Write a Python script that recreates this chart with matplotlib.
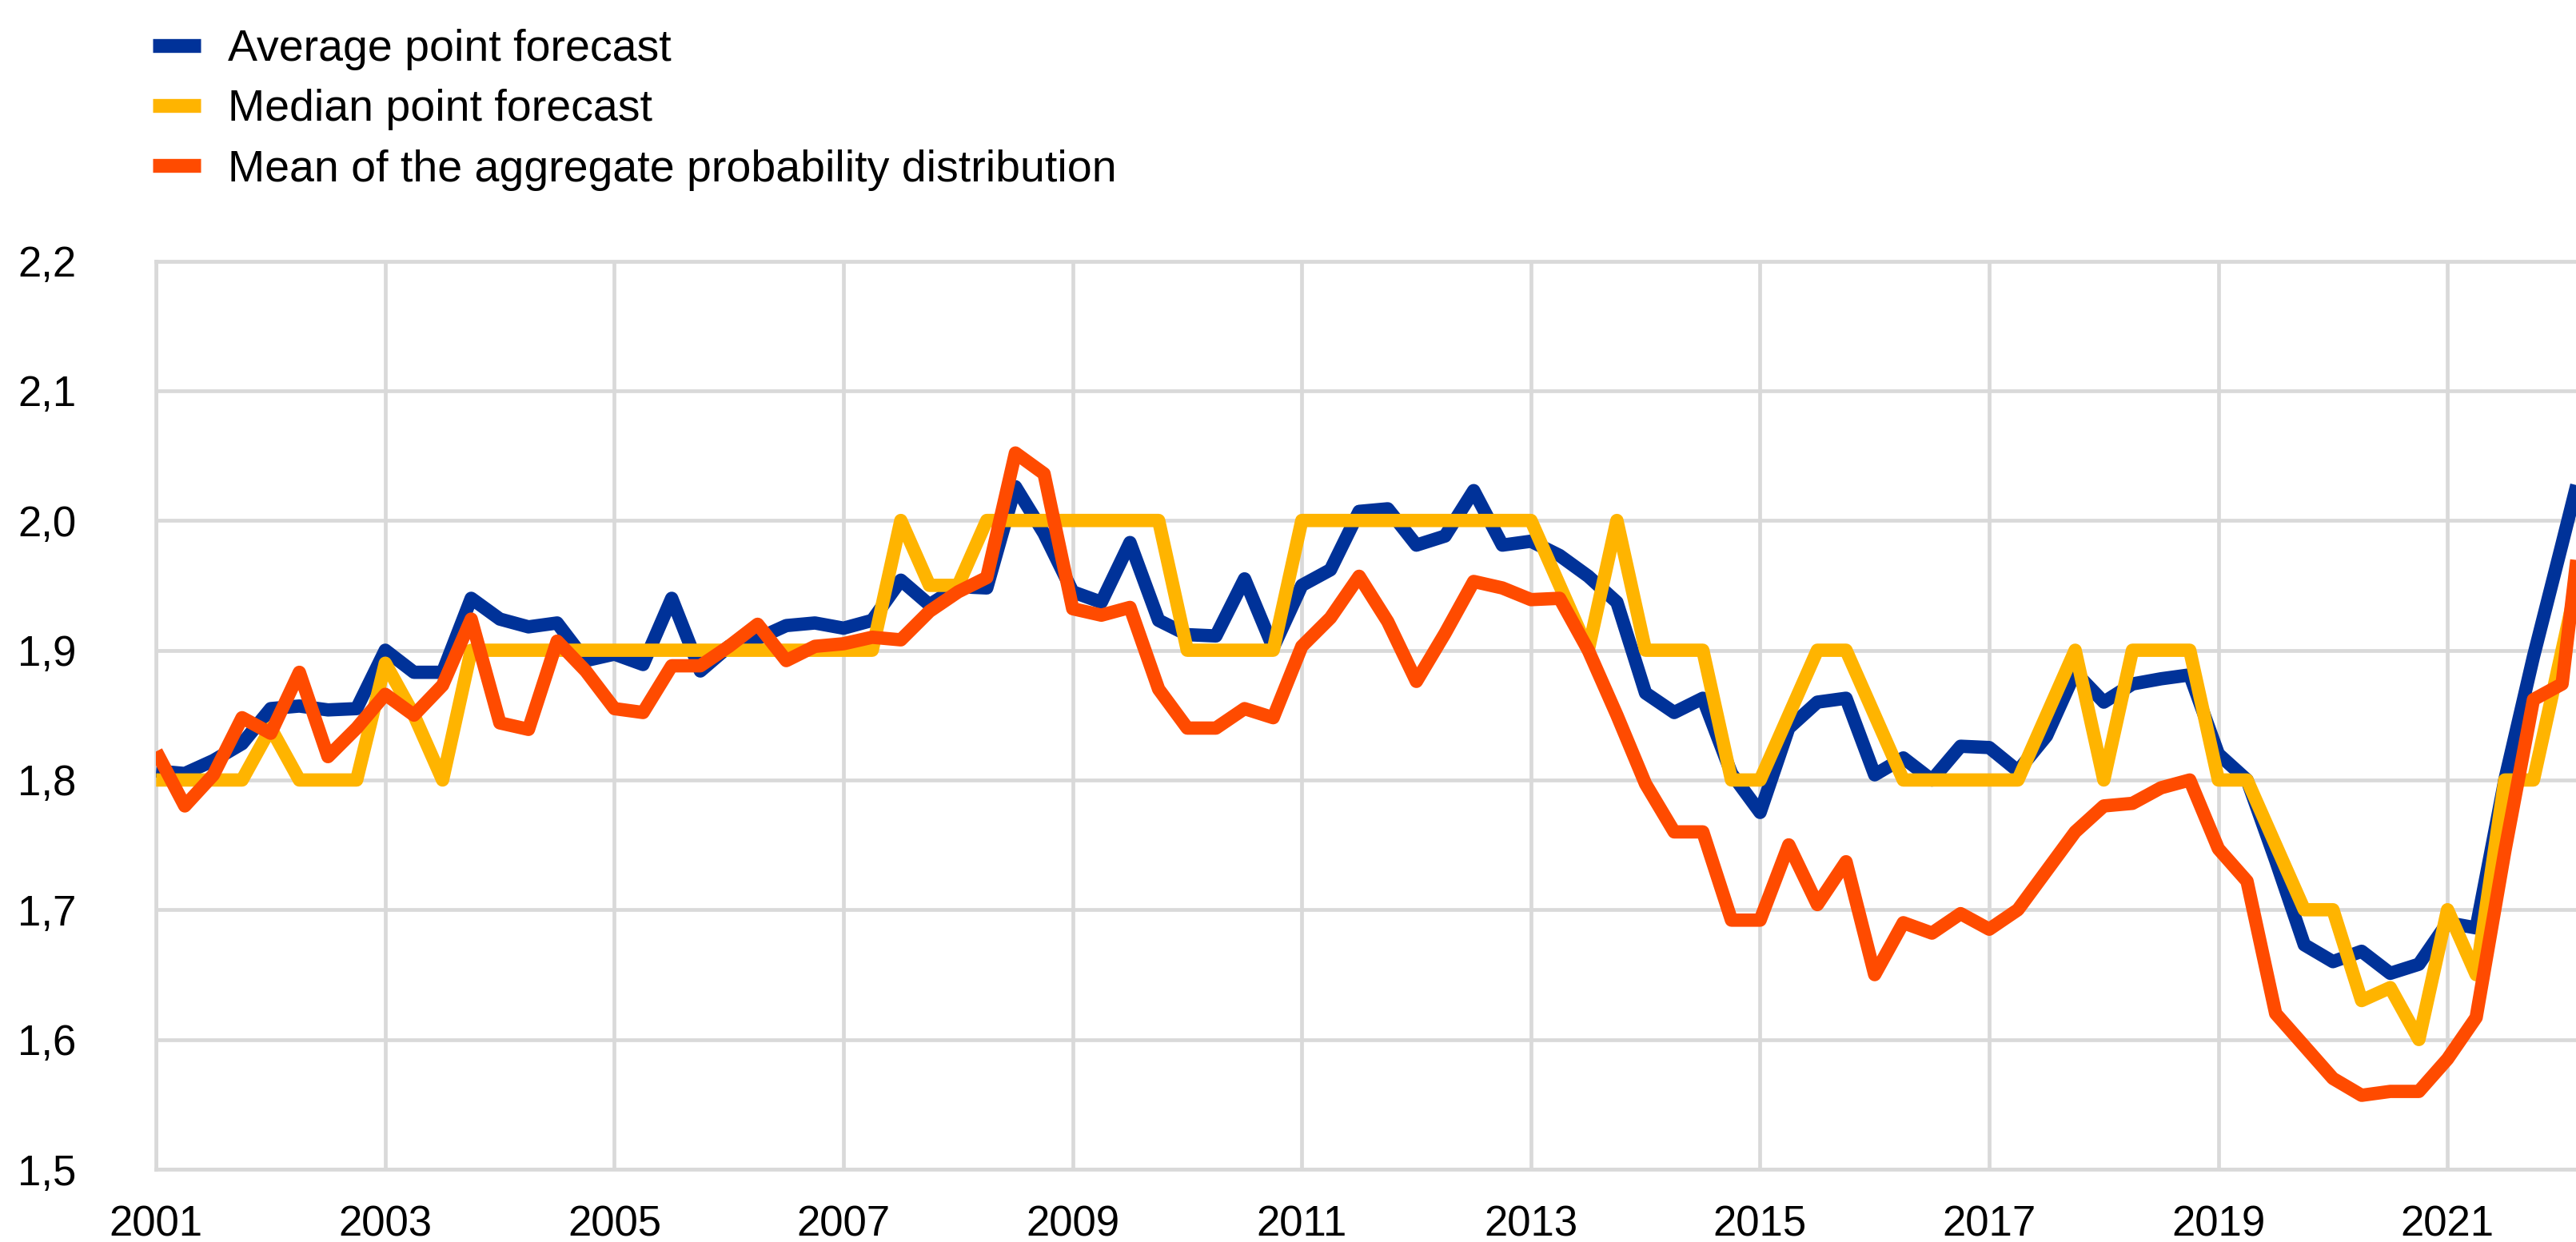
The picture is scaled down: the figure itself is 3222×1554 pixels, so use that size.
import matplotlib
matplotlib.use("Agg")
import matplotlib.pyplot as plt
from matplotlib.lines import Line2D
from matplotlib.ticker import FuncFormatter

plt.rcParams['font.family'] = ['Liberation Sans', 'DejaVu Sans']

# ---------------- data (quarterly, starting 2001 Q1) ----------------
start_year = 2001

average_point = [
    1.807, 1.805, 1.815, 1.828,   # 2001
    1.855, 1.857, 1.854, 1.855,   # 2002
    1.900, 1.883, 1.883, 1.940,   # 2003
    1.924, 1.918, 1.921, 1.892,   # 2004
    1.897, 1.889, 1.940, 1.884,   # 2005
    1.903, 1.909, 1.919, 1.921,   # 2006
    1.917, 1.923, 1.954, 1.935,   # 2007
    1.949, 1.948, 2.026, 1.990,   # 2008
    1.945, 1.937, 1.983, 1.923,   # 2009
    1.912, 1.911, 1.955, 1.902,   # 2010
    1.950, 1.962, 2.007, 2.009,   # 2011
    1.981, 1.988, 2.023, 1.981,   # 2012
    1.984, 1.973, 1.957, 1.937,   # 2013
    1.867, 1.852, 1.863, 1.805,   # 2014
    1.775, 1.840, 1.860, 1.863,   # 2015
    1.804, 1.817, 1.800, 1.826,   # 2016
    1.825, 1.807, 1.834, 1.883,   # 2017
    1.860, 1.874, 1.878, 1.881,   # 2018
    1.820, 1.800, 1.738, 1.673,   # 2019
    1.660, 1.668, 1.651, 1.658,   # 2020
    1.690, 1.686, 1.800, 1.895,   # 2021
    1.982, 2.070,                 # 2022
]

median_point = [
    1.80, 1.80, 1.80, 1.80,   # 2001
    1.84, 1.80, 1.80, 1.80,   # 2002
    1.89, 1.85, 1.80, 1.90,   # 2003
    1.90, 1.90, 1.90, 1.90,   # 2004
    1.90, 1.90, 1.90, 1.90,   # 2005
    1.90, 1.90, 1.90, 1.90,   # 2006
    1.90, 1.90, 2.00, 1.95,   # 2007
    1.95, 2.00, 2.00, 2.00,   # 2008
    2.00, 2.00, 2.00, 2.00,   # 2009
    1.90, 1.90, 1.90, 1.90,   # 2010
    2.00, 2.00, 2.00, 2.00,   # 2011
    2.00, 2.00, 2.00, 2.00,   # 2012
    2.00, 1.95, 1.90, 2.00,   # 2013
    1.90, 1.90, 1.90, 1.80,   # 2014
    1.80, 1.85, 1.90, 1.90,   # 2015
    1.85, 1.80, 1.80, 1.80,   # 2016
    1.80, 1.80, 1.85, 1.90,   # 2017
    1.80, 1.90, 1.90, 1.90,   # 2018
    1.80, 1.80, 1.75, 1.70,   # 2019
    1.70, 1.63, 1.64, 1.60,   # 2020
    1.70, 1.65, 1.80, 1.80,   # 2021
    1.90, 2.00,               # 2022
]

mean_distribution = [
    1.822, 1.780, 1.804, 1.848,   # 2001
    1.836, 1.883, 1.818, 1.840,   # 2002
    1.866, 1.850, 1.873, 1.924,   # 2003
    1.844, 1.839, 1.907, 1.884,   # 2004
    1.855, 1.852, 1.888, 1.888,   # 2005
    1.903, 1.920, 1.892, 1.903,   # 2006
    1.905, 1.910, 1.908, 1.930,   # 2007
    1.945, 1.956, 2.052, 2.036,   # 2008
    1.932, 1.927, 1.933, 1.870,   # 2009
    1.840, 1.840, 1.855, 1.848,   # 2010
    1.903, 1.925, 1.957, 1.922,   # 2011
    1.876, 1.913, 1.953, 1.948,   # 2012
    1.939, 1.940, 1.900, 1.850,   # 2013
    1.797, 1.760, 1.760, 1.692,   # 2014
    1.692, 1.750, 1.704, 1.737,   # 2015
    1.650, 1.690, 1.682, 1.697,   # 2016
    1.685, 1.700, 1.730, 1.760,   # 2017
    1.780, 1.782, 1.794, 1.800,   # 2018
    1.747, 1.722, 1.620, 1.595,   # 2019
    1.570, 1.557, 1.560, 1.560,   # 2020
    1.585, 1.617, 1.745, 1.862,   # 2021
    1.874, 2.060,                 # 2022
]

series_labels = [
    "Average point forecast",
    "Median point forecast",
    "Mean of the aggregate probability distribution",
]
series_colors = ["#003299", "#FFB400", "#FF4B00"]

x_tick_years = list(range(2001, 2023, 2))
y_ticks = [1.5, 1.6, 1.7, 1.8, 1.9, 2.0, 2.1, 2.2]

# quarter positions on a continuous time axis
x_pos = [start_year + i / 4 for i in range(len(average_point))]

# ---------------- figure ----------------
W, H = 3223, 1554
fig = plt.figure(figsize=(W / 100, H / 100), dpi=100)
left_px, top_px, bottom_px = 195.3, 326.5, 1463.0
ax = fig.add_axes([left_px / W, 1 - bottom_px / H, 1 - left_px / W, (bottom_px - top_px) / H])

px_per_year = 143.3
ax.set_xlim(2001, 2001 + (W - left_px) / px_per_year)
ax.set_ylim(1.5, 2.2)

lw = 12
for vals, col, lab, z in zip([average_point, median_point, mean_distribution],
                             series_colors, series_labels, [3, 4, 5]):
    ax.plot(x_pos, vals, color=col, lw=lw, label=lab, zorder=z,
            solid_joinstyle='round', solid_capstyle='butt')

grid_col = '#d9d9d9'
ax.set_xticks(x_tick_years)
ax.set_xticklabels([str(y) for y in x_tick_years])
ax.set_yticks(y_ticks)
ax.yaxis.set_major_formatter(FuncFormatter(lambda v, p: f"{v:.1f}".replace('.', ',')))
ax.grid(True, color=grid_col, lw=3.4)
ax.set_axisbelow(True)
for side in ['left', 'bottom', 'top']:
    ax.spines[side].set_color(grid_col)
    ax.spines[side].set_linewidth(3.4)
ax.spines['right'].set_visible(False)
ax.tick_params(axis='both', length=0, labelsize=38, labelcolor='black')
ax.tick_params(axis='x', pad=32)
ax.tick_params(axis='y', pad=72)

handles = [Line2D([0], [0], color=c, lw=12.5, solid_capstyle='butt') for c in series_colors]
fig.legend(handles, series_labels, loc='upper left',
           bbox_to_anchor=(191 / W, 1 - 36 / H), frameon=False, fontsize=40,
           handlelength=1.08, handletextpad=0.61, labelspacing=0.42,
           borderpad=0, borderaxespad=0)

fig.savefig("out.png", dpi=100)
